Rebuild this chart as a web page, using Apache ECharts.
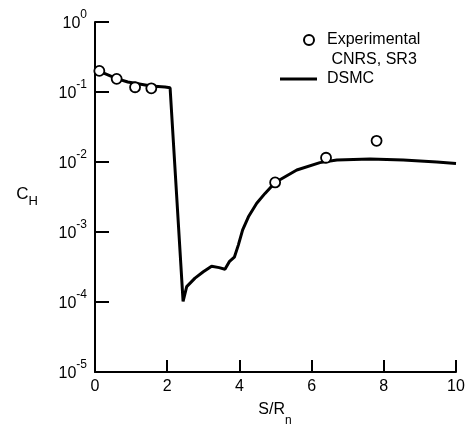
<!DOCTYPE html>
<html>
<head>
<meta charset="utf-8">
<script src="https://cdn.jsdelivr.net/npm/echarts@6/dist/echarts.min.js"></script>
<style>
html,body{margin:0;padding:0;background:#fff;}
#chart{width:466px;height:425px;}
</style>
</head>
<body>
<div id="chart"></div>
<script>
// DSMC computed curve (x = S/Rn, y = C_H)
const dsmcX = [0, 0.6, 0.91, 1.55, 1.94, 2.08, 2.44, 2.54, 2.77, 3.0, 3.23, 3.44, 3.6, 3.72, 3.86, 3.97, 4.09, 4.25, 4.48, 4.71, 4.99, 5.59, 6.23, 6.7, 7.62, 8.54, 9.47, 10.0];
const dsmcY = [0.21, 0.155, 0.139, 0.122, 0.118, 0.115, 1.02e-4, 1.66e-4, 2.19e-4, 2.7e-4, 3.25e-4, 3.1e-4, 2.94e-4, 3.77e-4, 4.36e-4, 6.5e-4, 1.07e-3, 1.65e-3, 2.57e-3, 3.56e-3, 5.1e-3, 7.7e-3, 9.8e-3, 0.0107, 0.011, 0.0107, 0.0100, 0.0095];
// Experimental (CNRS, SR3)
const expX = [0.12, 0.6, 1.11, 1.56, 4.99, 6.4, 7.8];
const expY = [0.2, 0.154, 0.117, 0.113, 0.0051, 0.0115, 0.0201];
// Axis ticks
const xTicks = [0, 2, 4, 6, 8, 10];
const yExponents = [0, -1, -2, -3, -4, -5];

const FONT = '"Liberation Sans", Arial, Helvetica, sans-serif';

const chart = echarts.init(document.getElementById('chart'), null, {renderer: 'canvas'});
const option = {
  backgroundColor: '#fff',
  animation: false,
  grid: {left: 95, top: 22, width: 361, height: 350, containLabel: false, outerBoundsMode: 'none'},
  legend: [
    {
      data: ['Experimental'],
      orient: 'vertical',
      left: 303, top: 10, padding: 0,
      itemWidth: 12, itemHeight: 10,
      formatter: function () { return '\nExperimental\n CNRS, SR3'; },
      textStyle: {fontFamily: FONT, fontSize: 16, color: '#000', lineHeight: 20, padding: [0, 0, 0, 7]}
    },
    {
      data: [{name: 'DSMC', icon: 'rect'}],
      orient: 'vertical',
      left: 280, top: 69, padding: 0,
      itemWidth: 37, itemHeight: 3,
      textStyle: {fontFamily: FONT, fontSize: 16, color: '#000', lineHeight: 20, padding: [0, 0, 0, 5]}
    }
  ],
  xAxis: {
    type: 'value', min: 0, max: 10, interval: 2,
    name: '{a|S/R}{b|n}{c| }',
    nameLocation: 'middle', nameGap: 30,
    nameTextStyle: {
      verticalAlign: 'top',
      rich: {
        a: {fontFamily: FONT, fontSize: 16, color: '#000', lineHeight: 12, verticalAlign: 'top'},
        b: {fontFamily: FONT, fontSize: 12, color: '#000', lineHeight: 12, verticalAlign: 'bottom'},
        c: {fontFamily: FONT, fontSize: 4, color: '#000', lineHeight: 25}
      }
    },
    axisLine: {lineStyle: {color: '#000', width: 2}},
    axisTick: {inside: true, length: 12, lineStyle: {color: '#000', width: 2}},
    axisLabel: {
      margin: 7, fontFamily: FONT, fontSize: 16, color: '#000',
      formatter: function (v) { return xTicks.indexOf(v) >= 0 ? String(v) : ''; }
    },
    splitLine: {show: false}
  },
  yAxis: {
    type: 'log', logBase: 10, min: 1e-5, max: 1,
    name: '{a|C}{b|H}',
    nameLocation: 'middle', nameGap: 57, nameRotate: 0,
    nameTextStyle: {
      rich: {
        a: {fontFamily: FONT, fontSize: 17, color: '#000', lineHeight: 22, verticalAlign: 'top'},
        b: {fontFamily: FONT, fontSize: 13, color: '#000', lineHeight: 13, verticalAlign: 'bottom'}
      }
    },
    axisLine: {show: true, lineStyle: {color: '#000', width: 2}},
    axisTick: {show: true, inside: true, length: 14, lineStyle: {color: '#000', width: 2}},
    axisLabel: {
      margin: 8,
      formatter: function (v) {
        const e = Math.round(Math.log10(v));
        if (yExponents.indexOf(e) < 0) return '';
        return '{a|10}{b|' + e + '}';
      },
      rich: {
        a: {fontFamily: FONT, fontSize: 16, color: '#000', lineHeight: 26, padding: [4, 0, 0, 0]},
        b: {fontFamily: FONT, fontSize: 12, color: '#000', lineHeight: 12, verticalAlign: 'top'}
      }
    },
    splitLine: {show: false}
  },
  series: [
    {
      name: 'DSMC', type: 'line', symbol: 'none', smooth: false,
      lineStyle: {color: '#000', width: 3},
      itemStyle: {color: '#000'},
      data: dsmcX.map((x, i) => [x, dsmcY[i]]),
      z: 2
    },
    {
      name: 'Experimental', type: 'scatter', symbol: 'circle', symbolSize: 10,
      itemStyle: {color: '#fff', borderColor: '#000', borderWidth: 1.8, opacity: 1},
      data: expX.map((x, i) => [x, expY[i]]),
      z: 3
    }
  ]
};
chart.setOption(option);
</script>
</body>
</html>
